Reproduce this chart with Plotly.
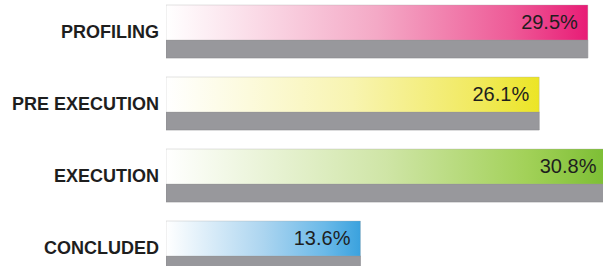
import plotly.graph_objects as go

categories = ["PROFILING", "PRE EXECUTION", "EXECUTION", "CONCLUDED"]
values = [29.5, 26.1, 30.8, 13.6]
value_labels = ["29.5%", "26.1%", "30.8%", "13.6%"]
mid_colors = ["#f4a9c6", "#f8f4b0", "#cfe5a6", "#acd5f0"]
late_colors = ["#ee5a97", "#f1ea62", "#a2d158", "#6ab9e8"]
end_colors = ["#e81c76", "#ece524", "#7cbe34", "#3aa2de"]

PX_PER_UNIT = 14.3
FACE_TOP = -27 / 72
FACE_BOT = 8 / 72
GRAY_BOT = 26 / 72

fig = go.Figure()
for i, (cat, v) in enumerate(zip(categories, values)):
    fig.add_trace(go.Scatter(
        x=[0, v, v, 0, 0],
        y=[i + FACE_BOT, i + FACE_BOT, i + GRAY_BOT, i + GRAY_BOT, i + FACE_BOT],
        mode="lines", fill="toself", fillcolor="#98989c",
        line=dict(width=0.6, color="#8a8a8e"), hoverinfo="skip", showlegend=False,
    ))
    fig.add_trace(go.Scatter(
        x=[0, v, v, 0, 0],
        y=[i + FACE_TOP, i + FACE_TOP, i + FACE_BOT, i + FACE_BOT, i + FACE_TOP],
        mode="lines", fill="toself",
        fillgradient=dict(type="horizontal",
                          colorscale=[[0, "#ffffff"], [0.5, mid_colors[i]],
                                      [0.82, late_colors[i]], [1, end_colors[i]]]),
        line=dict(width=0.6, color="rgba(160,160,160,0.5)"),
        hoverinfo="skip", showlegend=False,
    ))

fig.add_trace(go.Scatter(
    x=[v - 10 / PX_PER_UNIT for v in values],
    y=[i - 8 / 72 for i in range(len(values))],
    mode="text", text=value_labels, textposition="middle left",
    textfont=dict(family="Liberation Sans, Arial, sans-serif", size=20, color="#1e1e1e"),
    cliponaxis=False, hoverinfo="skip", showlegend=False,
))

fig.update_layout(
    template="none",
    width=603, height=266,
    margin=dict(l=166, r=0, t=0, b=0, pad=0),
    paper_bgcolor="white", plot_bgcolor="white",
    xaxis=dict(range=[0, 437 / PX_PER_UNIT], visible=False, fixedrange=True, automargin=False),
    yaxis=dict(
        range=[3.25, -32 / 72], automargin=False,
        tickvals=list(range(len(categories))), ticktext=categories,
        showgrid=False, zeroline=False, showline=False, ticks="",
        ticklabelstandoff=6,
        tickfont=dict(family="Liberation Sans, Arial, sans-serif", size=18, color="#1e1e1e", weight="bold"),
    ),
)

fig.write_html("out.html", config={"displayModeBar": False},
               post_script="document.body.style.margin='0';document.body.style.overflow='hidden';")
